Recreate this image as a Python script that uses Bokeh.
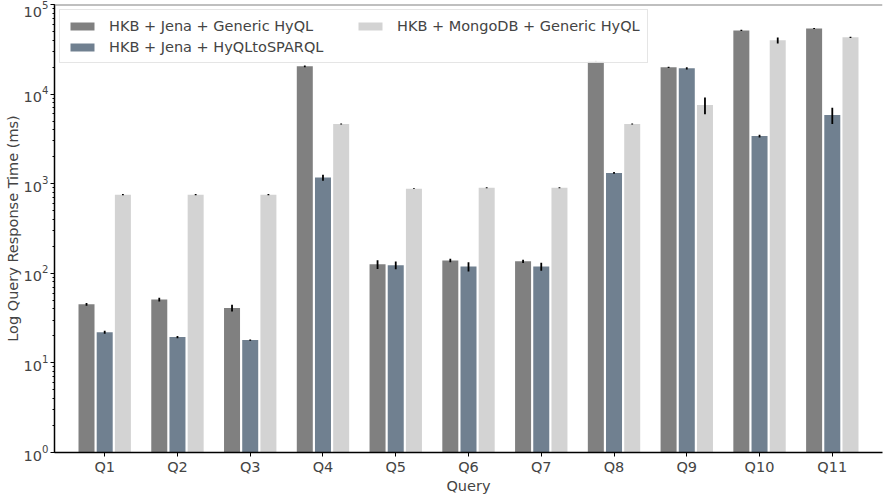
from bokeh.plotting import figure
from bokeh.models import Range1d, ColumnDataSource, Legend, LegendItem, Span, FixedTicker
from bokeh.embed import file_html
from bokeh.resources import INLINE

queries = ["Q1", "Q2", "Q3", "Q4", "Q5", "Q6", "Q7", "Q8", "Q9", "Q10", "Q11"]
series_names = ["HKB + Jena + Generic HyQL", "HKB + Jena + HyQLtoSPARQL", "HKB + MongoDB + Generic HyQL"]
jena_generic = [45, 51, 41, 20400, 126, 139, 136, 23200, 19900, 51300, 54000]
jena_generic_err = [1.5, 2.5, 3.5, 400, 14, 6, 6, 300, 300, 800, 700]
jena_sparql = [22, 19.4, 18, 1170, 123, 119, 119, 1320, 19400, 3400, 5850]
jena_sparql_err = [0.8, 0.5, 0.3, 90, 12, 14, 12, 30, 600, 120, 1200]
mongo_generic = [755, 755, 755, 4640, 880, 900, 900, 4640, 7550, 39800, 43000]
mongo_generic_err = [10, 10, 10, 60, 10, 10, 10, 60, 1600, 3000, 600]
x_title = "Query"
y_title = "Log Query Response Time (ms)"

colors = ["#808080", "#708090", "#d3d3d3"]
offsets = [-0.25, 0.0, 0.25]
FONT = "DejaVu Sans"
FS = "14.5px"

p = figure(width=883, height=496, output_backend="svg", toolbar_location=None,
           y_axis_type="log", x_range=Range1d(-0.69, 10.69), y_range=Range1d(1, 1e5),
           min_border_left=54, min_border_right=1, min_border_top=4, min_border_bottom=42)

xs = list(range(len(queries)))
renderers = []
for vals, errs, col, off in zip([jena_generic, jena_sparql, mongo_generic],
                                [jena_generic_err, jena_sparql_err, mongo_generic_err],
                                colors, offsets):
    src = ColumnDataSource(dict(
        x=[i + off for i in xs], top=vals,
        lo=[v - e for v, e in zip(vals, errs)], hi=[v + e for v, e in zip(vals, errs)]))
    r = p.vbar(x="x", top="top", bottom=1, width=0.22, source=src, fill_color=col, line_color=None)
    p.segment(x0="x", x1="x", y0="lo", y1="hi", source=src, line_color="black", line_width=1.8)
    renderers.append(r)

legend = Legend(items=[LegendItem(label=n, renderers=[r]) for n, r in zip(series_names, renderers)],
                location="top_left", nrows=2, orientation="vertical")
legend.label_text_font = FONT
legend.label_text_font_size = FS
legend.glyph_width = 30
legend.glyph_height = 10
legend.label_standoff = 12
legend.label_width = 242
legend.label_height = 17
legend.spacing = 4
legend.padding = 7
legend.margin = 5
legend.border_line_color = "#cccccc"
legend.background_fill_alpha = 0.9
p.add_layout(legend)

p.grid.visible = False
p.outline_line_color = None
p.add_layout(Span(location=1e5, dimension="width", line_color="#808080", line_width=2))

p.xaxis.ticker = FixedTicker(ticks=xs)
p.xaxis.major_label_overrides = {i: q for i, q in enumerate(queries)}
p.xaxis.minor_tick_line_color = None
p.xaxis.axis_label = x_title
p.yaxis.axis_label = y_title
for ax in [p.xaxis[0], p.yaxis[0]]:
    ax.axis_label_text_font = FONT
    ax.axis_label_text_font_style = "normal"
    ax.axis_label_text_font_size = FS
    ax.axis_label_text_line_height = 1.0
    ax.major_label_text_font = FONT
    ax.major_label_text_font_size = FS
    ax.major_label_text_line_height = 1.0
    ax.axis_line_color = "black"
    ax.axis_line_width = 1.5
    ax.major_tick_line_color = "black"
    ax.major_tick_out = 4
    ax.major_tick_in = 0
    ax.minor_tick_out = 2
    ax.minor_tick_in = 0
    ax.axis_label_standoff = 0
    ax.major_label_standoff = 2

open("out.html", "w").write(file_html(p, INLINE))
